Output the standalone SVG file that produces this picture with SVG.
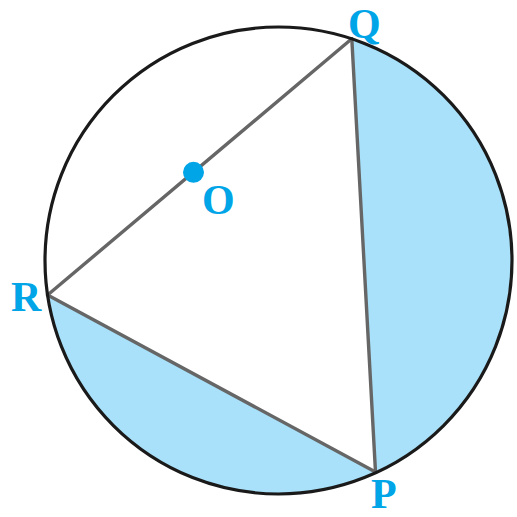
<svg xmlns="http://www.w3.org/2000/svg" width="517" height="517" viewBox="0 0 517 517">
<style>
.seg{fill:#a8e1f9;stroke:none}
.chord{stroke:#666;stroke-width:3.4;fill:none;stroke-linecap:round}
.circ{fill:none;stroke:#1a1a1a;stroke-width:3.2}
.lbl{font-family:"Liberation Serif","Times New Roman",serif;font-weight:bold;font-size:42px;fill:#00a5e8}
</style>
<rect width="517" height="517" fill="#fff"/>
<g id="shading">
<path class="seg" d="M351.8,38.8 A233.5,233.5 0 0 1 375.5,472 Z"/>
<path class="seg" d="M375.5,472 A233.5,233.5 0 0 1 47.6,295 Z"/>
</g>
<g id="connectors">
<line class="chord" x1="351.8" y1="38.8" x2="47.6" y2="295"/>
<line class="chord" x1="47.6" y1="295" x2="375.5" y2="472"/>
<line class="chord" x1="375.5" y1="472" x2="351.8" y2="38.8"/>
</g>
<g id="circle"><circle class="circ" cx="278.5" cy="260.5" r="233.5"/></g>
<g id="O"><circle cx="193.5" cy="172.3" r="10.5" fill="#00a5e8"/><text class="lbl" x="202" y="214">O</text></g>
<g id="Q"><text class="lbl" x="348" y="37.5">Q</text></g>
<g id="R"><text class="lbl" x="11" y="311">R</text></g>
<g id="P"><text class="lbl" x="371" y="507.5">P</text></g>
</svg>
